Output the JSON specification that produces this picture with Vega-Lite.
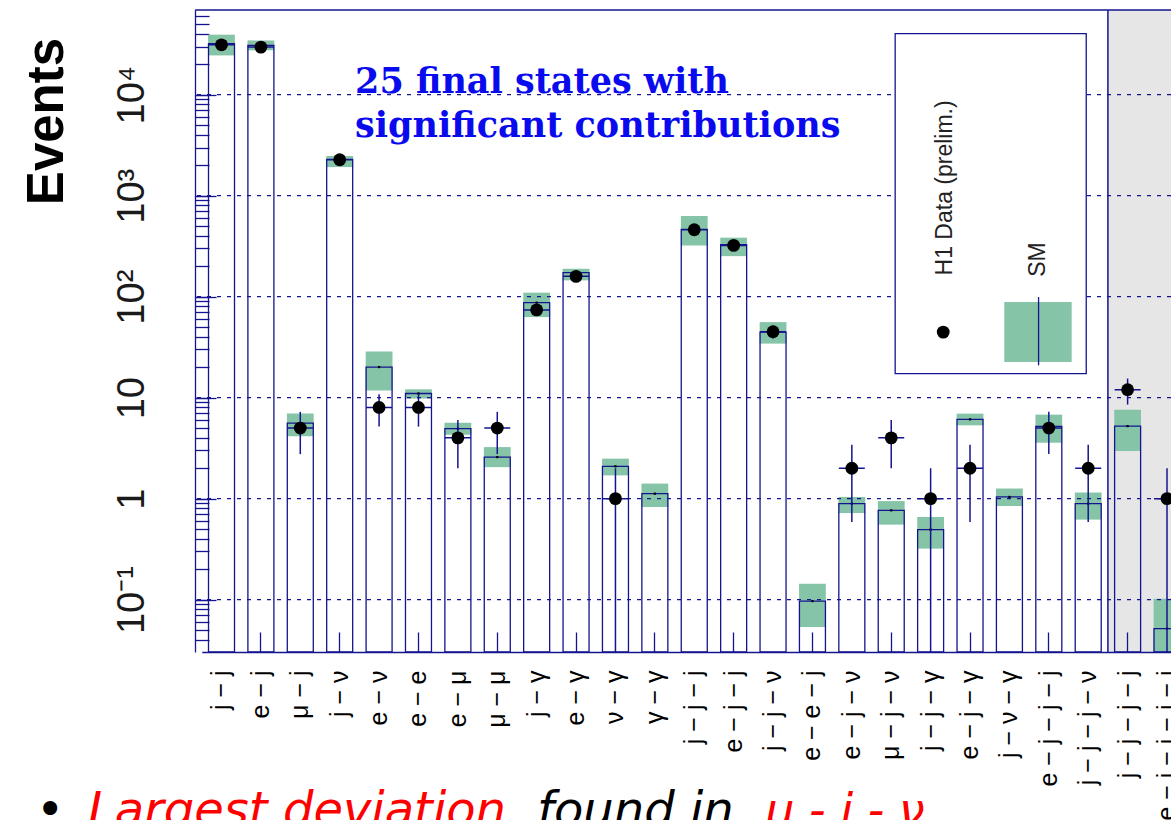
{
  "$schema": "https://vega.github.io/schema/vega-lite/v6.json",
  "width": 976,
  "height": 642,
  "autosize": {"type": "none"},
  "padding": {"left": 195, "top": 10, "right": 0, "bottom": 168},
  "background": "white",
  "config": {"view": {"stroke": null}},
  "resolve": {"scale": {"y": "independent"}, "axis": {"y": "independent"}},
  "layer": [
    {
      "data": {"values": [
        {"fs": "j − j", "sm": 32000, "lo": 24500, "hi": 39300, "n": 31200, "dlo": 31023, "dhi": 31377},
        {"fs": "e − j", "sm": 30800, "lo": 27500, "hi": 34500, "n": 29600, "dlo": 29428, "dhi": 29772},
        {"fs": "μ − j", "sm": 5.6, "lo": 4.14, "hi": 6.95, "n": 5, "dlo": 2.76, "dhi": 7.24},
        {"fs": "j − ν", "sm": 2290, "lo": 1920, "hi": 2470, "n": 2270, "dlo": 2222, "dhi": 2318},
        {"fs": "e − ν", "sm": 20.1, "lo": 11.8, "hi": 28.7, "n": 8, "dlo": 5.17, "dhi": 10.83},
        {"fs": "e − e", "sm": 11.0, "lo": 9.8, "hi": 12.1, "n": 8, "dlo": 5.17, "dhi": 10.83},
        {"fs": "e − μ", "sm": 4.93, "lo": 4.3, "hi": 5.65, "n": 4, "dlo": 2, "dhi": 6},
        {"fs": "μ − μ", "sm": 2.58, "lo": 2.05, "hi": 3.24, "n": 5, "dlo": 2.76, "dhi": 7.24},
        {"fs": "j − γ", "sm": 87.3, "lo": 62.8, "hi": 109.6, "n": 74, "dlo": 65.4, "dhi": 82.6},
        {"fs": "e − γ", "sm": 173, "lo": 145, "hi": 189, "n": 159, "dlo": 146.4, "dhi": 171.6},
        {"fs": "ν − γ", "sm": 2.09, "lo": 1.70, "hi": 2.49, "n": 1, "dlo": 0, "dhi": 2},
        {"fs": "γ − γ", "sm": 1.12, "lo": 0.826, "hi": 1.41, "n": null, "dlo": null, "dhi": null},
        {"fs": "j − j − j", "sm": 464, "lo": 322, "hi": 628, "n": 460, "dlo": 438.6, "dhi": 481.4},
        {"fs": "e − j − j", "sm": 327, "lo": 252, "hi": 384, "n": 322, "dlo": 304.1, "dhi": 339.9},
        {"fs": "j − j − ν", "sm": 44.6, "lo": 34.3, "hi": 56, "n": 45, "dlo": 38.3, "dhi": 51.7},
        {"fs": "e − e − j", "sm": 0.0968, "lo": 0.0536, "hi": 0.144, "n": null, "dlo": null, "dhi": null},
        {"fs": "e − j − ν", "sm": 0.892, "lo": 0.72, "hi": 1.04, "n": 2, "dlo": 0.586, "dhi": 3.414},
        {"fs": "μ − j − ν", "sm": 0.766, "lo": 0.553, "hi": 0.946, "n": 4, "dlo": 2, "dhi": 6},
        {"fs": "j − j − γ", "sm": 0.493, "lo": 0.32, "hi": 0.658, "n": 1, "dlo": 0, "dhi": 2},
        {"fs": "e − j − γ", "sm": 6.1, "lo": 5.32, "hi": 6.95, "n": 2, "dlo": 0.586, "dhi": 3.414},
        {"fs": "j − ν − γ", "sm": 1.04, "lo": 0.845, "hi": 1.26, "n": null, "dlo": null, "dhi": null},
        {"fs": "e − j − j − j", "sm": 5.2, "lo": 3.58, "hi": 6.79, "n": 5, "dlo": 2.76, "dhi": 7.24},
        {"fs": "j − j − j − ν", "sm": 0.892, "lo": 0.62, "hi": 1.15, "n": 2, "dlo": 0.586, "dhi": 3.414},
        {"fs": "j − j − j − j", "sm": 5.23, "lo": 2.96, "hi": 7.6, "n": 12, "dlo": 8.54, "dhi": 15.46},
        {"fs": "e − j − j − j − j", "sm": 0.0516, "lo": 0.01, "hi": 0.102, "n": 1, "dlo": 0, "dhi": 2}
      ]},
      "resolve": {"axis": {"y": "independent"}},
      "layer": [
        {
          "data": {"values": [{}]},
          "mark": {"type": "rect", "fill": "#e6e6e6"},
          "encoding": {
            "x": {"datum": "j − j − j − j", "bandPosition": 0},
            "x2": {"datum": "e − j − j − j − j", "bandPosition": 1},
            "y": {"datum": 69000, "type": "quantitative", "axis": null},
            "y2": {"datum": 0.0303}
          }
        },
        {
          "mark": {"type": "bar", "fill": "#86c4a8", "clip": true, "width": {"band": 0.68}},
          "encoding": {
            "x": {
              "field": "fs", "type": "nominal", "sort": null,
              "scale": {
                "domain": ["j − j", "e − j", "μ − j", "j − ν", "e − ν", "e − e", "e − μ", "μ − μ", "j − γ", "e − γ", "ν − γ", "γ − γ", "j − j − j", "e − j − j", "j − j − ν", "e − e − j", "e − j − ν", "μ − j − ν", "j − j − γ", "e − j − γ", "j − ν − γ", "e − j − j − j", "j − j − j − ν", "j − j − j − j", "e − j − j − j − j"],
                "range": [6.8, 991.7], "paddingInner": 0, "paddingOuter": 0
              },
              "axis": {
                "title": null,
                "domainColor": "#141490", "domainWidth": 1.3,
                "tickColor": "#141490", "tickWidth": 1.3, "tickSize": -20,
                "tickOpacity": {"condition": {"test": "indexof(['e − j','j − ν','e − e','μ − μ','e − γ','γ − γ','e − j − j','e − e − j','μ − j − ν','e − j − γ','e − j − j − j','j − j − j − j'], datum.value) >= 0", "value": 1}, "value": 0},
                "labelAngle": -90, "labelAlign": "right", "labelBaseline": "middle",
                "labelPadding": 38, "labelFont": "Liberation Sans", "labelFontSize": 25,
                "labelColor": "black", "labelOverlap": false, "labelBound": false
              }
            },
            "y": {
              "field": "lo", "type": "quantitative",
              "scale": {"type": "log", "domain": [0.0303, 69000], "nice": false, "clamp": true},
              "axis": {
                "orient": "left",
                "values": [0.04, 0.05, 0.06, 0.07, 0.08, 0.09, 0.1, 0.2, 0.3, 0.4, 0.5, 0.6, 0.7, 0.8, 0.9, 1, 2, 3, 4, 5, 6, 7, 8, 9, 10, 20, 30, 40, 50, 60, 70, 80, 90, 100, 200, 300, 400, 500, 600, 700, 800, 900, 1000, 2000, 3000, 4000, 5000, 6000, 7000, 8000, 9000, 10000, 20000, 30000, 40000, 50000, 60000],
                "labelExpr": "datum.value==10000?'10⁴':datum.value==1000?'10³':datum.value==100?'10²':datum.value==10?'10':datum.value==1?'1':datum.value==0.1?'10⁻¹':''",
                "grid": false,
                "domainColor": "#141490", "domainWidth": 1.3,
                "tickColor": "#141490", "tickWidth": 1.3, "tickSize": -14,
                "labelAngle": -90, "labelAlign": "center", "labelBaseline": "alphabetic",
                "labelPadding": 66, "labelFont": "Liberation Sans", "labelFontSize": 38,
                "labelColor": "#1a1a1a", "labelOverlap": false, "labelBound": false,
                "title": "Events", "titleFont": "Liberation Sans", "titleFontSize": 51, "titleFontWeight": "bold",
                "titleColor": "black", "titleAngle": -90, "titleAlign": "center", "titleBaseline": "alphabetic",
                "titleX": -133, "titleY": 111
              }
            },
            "y2": {"field": "hi"}
          }
        },
        {
          "mark": {"type": "bar", "fill": "transparent", "stroke": "#141490", "strokeWidth": 1.3, "width": {"band": 0.66}},
          "encoding": {
            "x": {"field": "fs", "type": "nominal", "sort": null},
            "y": {"field": "sm", "type": "quantitative", "axis": null},
            "y2": {"datum": 0.0303}
          }
        },
        {
          "mark": {"type": "square", "size": 5, "color": "black", "filled": true, "opacity": 1},
          "encoding": {
            "x": {"field": "fs", "type": "nominal", "sort": null},
            "y": {"field": "sm", "type": "quantitative", "axis": null}
          }
        },
        {
          "data": {"values": [{}]},
          "mark": {"type": "rule", "stroke": "#141490", "strokeWidth": 1.2, "strokeDash": [4, 6]},
          "encoding": {"y": {"datum": 0.1, "type": "quantitative",
            "axis": {"orient": "left", "values": [0.1, 1, 10, 100, 1000, 10000], "labels": false, "domain": false, "grid": false, "title": null, "tickSize": -21, "tickColor": "#141490", "tickWidth": 1.3}}}
        },
        {
          "data": {"values": [{}]},
          "mark": {"type": "rule", "stroke": "#141490", "strokeWidth": 1.2, "strokeDash": [4, 6]},
          "encoding": {"y": {"datum": 1, "type": "quantitative", "axis": null}}
        },
        {
          "data": {"values": [{}]},
          "mark": {"type": "rule", "stroke": "#141490", "strokeWidth": 1.2, "strokeDash": [4, 6]},
          "encoding": {"y": {"datum": 10, "type": "quantitative", "axis": null}}
        },
        {
          "data": {"values": [{}]},
          "mark": {"type": "rule", "stroke": "#141490", "strokeWidth": 1.2, "strokeDash": [4, 6]},
          "encoding": {"y": {"datum": 100, "type": "quantitative", "axis": null}}
        },
        {
          "data": {"values": [{}]},
          "mark": {"type": "rule", "stroke": "#141490", "strokeWidth": 1.2, "strokeDash": [4, 6]},
          "encoding": {"y": {"datum": 1000, "type": "quantitative", "axis": null}}
        },
        {
          "data": {"values": [{}]},
          "mark": {"type": "rule", "stroke": "#141490", "strokeWidth": 1.2, "strokeDash": [4, 6]},
          "encoding": {"y": {"datum": 10000, "type": "quantitative", "axis": null}}
        },
        {
          "data": {"values": [{}]},
          "mark": {"type": "rule", "stroke": "#141490", "strokeWidth": 1.5},
          "encoding": {"y": {"datum": 69000, "type": "quantitative", "axis": null}}
        },
        {
          "data": {"values": [{}]},
          "mark": {"type": "rule", "stroke": "#141490", "strokeWidth": 1.5},
          "encoding": {"x": {"datum": "j − j − j − j", "bandPosition": 0}}
        },
        {
          "transform": [{"filter": "isValid(datum.n)"}],
          "mark": {"type": "rule", "stroke": "#141490", "strokeWidth": 1.5},
          "encoding": {
            "x": {"field": "fs", "type": "nominal", "sort": null},
            "y": {"field": "dlo", "type": "quantitative", "axis": null},
            "y2": {"field": "dhi"}
          }
        },
        {
          "transform": [{"filter": "isValid(datum.n)"}],
          "mark": {"type": "bar", "fill": "transparent", "stroke": "#141490", "strokeWidth": 1.5, "width": {"band": 0.66}},
          "encoding": {
            "x": {"field": "fs", "type": "nominal", "sort": null},
            "y": {"field": "n", "type": "quantitative", "axis": null},
            "y2": {"field": "n"}
          }
        },
        {
          "transform": [{"filter": "isValid(datum.n)"}],
          "mark": {"type": "circle", "size": 165, "color": "black", "opacity": 1},
          "encoding": {
            "x": {"field": "fs", "type": "nominal", "sort": null},
            "y": {"field": "n", "type": "quantitative", "axis": null}
          }
        },
        {
          "data": {"values": [{}]},
          "mark": {"type": "rect", "fill": "white", "stroke": "#141490", "strokeWidth": 1.3},
          "encoding": {
            "x": {"datum": "μ − j − ν", "bandPosition": 0.6},
            "x2": {"datum": "j − j − j − ν", "bandPosition": 0.45},
            "y": {"datum": 40200, "type": "quantitative", "axis": null},
            "y2": {"datum": 17.3}
          }
        },
        {
          "data": {"values": [{}]},
          "mark": {"type": "rect", "fill": "#86c4a8"},
          "encoding": {
            "x": {"datum": "j − ν − γ", "bandPosition": 0.37},
            "x2": {"datum": "j − j − j − ν", "bandPosition": 0.08},
            "y": {"datum": 88.4, "type": "quantitative", "axis": null},
            "y2": {"datum": 22.5}
          }
        },
        {
          "data": {"values": [{}]},
          "mark": {"type": "rule", "stroke": "#141490", "strokeWidth": 1.3},
          "encoding": {
            "x": {"datum": "e − j − j − j", "bandPosition": 0.24},
            "y": {"datum": 99.1, "type": "quantitative", "axis": null},
            "y2": {"datum": 20.9}
          }
        },
        {
          "data": {"values": [{}]},
          "mark": {"type": "circle", "size": 165, "color": "black", "opacity": 1},
          "encoding": {
            "x": {"datum": "j − j − γ", "bandPosition": 0.82},
            "y": {"datum": 44.6, "type": "quantitative", "axis": null}
          }
        },
        {
          "data": {"values": [{}]},
          "mark": {"type": "text", "text": "H1 Data (prelim.)", "angle": 270, "align": "center", "baseline": "alphabetic", "font": "Liberation Sans", "fontSize": 23, "color": "#222222"},
          "encoding": {
            "x": {"datum": "e − j − γ", "bandPosition": 0.04},
            "y": {"datum": 1195, "type": "quantitative", "axis": null}
          }
        },
        {
          "data": {"values": [{}]},
          "mark": {"type": "text", "text": "SM", "angle": 270, "align": "center", "baseline": "alphabetic", "font": "Liberation Sans", "fontSize": 23, "color": "#222222"},
          "encoding": {
            "x": {"datum": "e − j − j − j", "bandPosition": 0.41},
            "y": {"datum": 233, "type": "quantitative", "axis": null}
          }
        },
        {
          "data": {"values": [{}]},
          "mark": {"type": "text", "text": ["25 final states with", "significant contributions"], "lineHeight": 44, "align": "left", "baseline": "alphabetic", "font": "DejaVu Serif", "fontWeight": "bold", "fontSize": 35, "color": "#0a0aee"},
          "encoding": {
            "x": {"datum": "j − ν", "bandPosition": 0.89},
            "y": {"datum": 10300, "type": "quantitative", "axis": null}
          }
        }
      ]
    },
    {
      "data": {"values": [{}]},
      "layer": [
        {
          "mark": {"type": "text", "text": "•", "align": "center", "baseline": "alphabetic", "font": "DejaVu Sans", "fontSize": 48, "color": "black"},
          "encoding": {
            "x": {"datum": "j − j", "bandPosition": -3.85},
            "y": {"datum": 0.00057, "type": "quantitative", "scale": {"type": "log", "domain": [0.0303, 69000], "nice": false}, "axis": null}
          }
        },
        {
          "mark": {"type": "text", "text": "Largest deviation", "align": "left", "baseline": "alphabetic", "font": "DejaVu Sans", "fontStyle": "italic", "fontSize": 48, "color": "#ff0000"},
          "encoding": {
            "x": {"datum": "j − j", "bandPosition": -2.89},
            "y": {"datum": 0.00057, "type": "quantitative", "axis": null}
          }
        },
        {
          "mark": {"type": "text", "text": "found in", "align": "left", "baseline": "alphabetic", "font": "DejaVu Sans", "fontStyle": "italic", "fontSize": 48, "color": "black"},
          "encoding": {
            "x": {"datum": "j − γ", "bandPosition": 0.51},
            "y": {"datum": 0.00057, "type": "quantitative", "axis": null}
          }
        },
        {
          "mark": {"type": "text", "text": "μ - j - ν", "align": "left", "baseline": "alphabetic", "font": "DejaVu Sans", "fontStyle": "italic", "fontSize": 46, "color": "#ff0000"},
          "encoding": {
            "x": {"datum": "j − j − ν", "bandPosition": 0.3},
            "y": {"datum": 0.00057, "type": "quantitative", "axis": null}
          }
        }
      ]
    }
  ]
}
